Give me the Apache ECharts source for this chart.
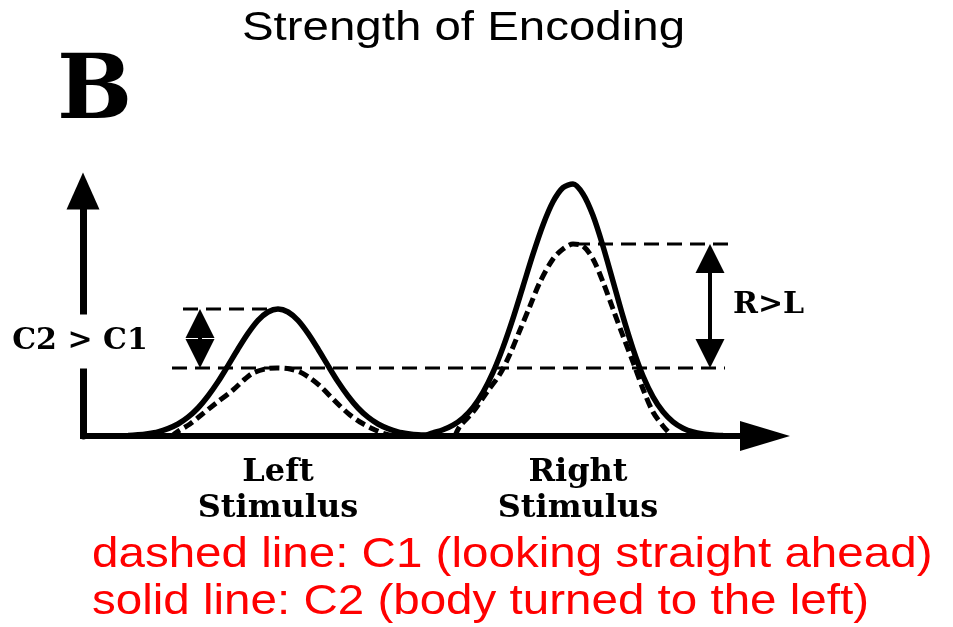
<!DOCTYPE html>
<html>
<head>
<meta charset="utf-8">
<script src="https://cdn.jsdelivr.net/npm/echarts@6/dist/echarts.min.js"></script>
<style>html,body{margin:0;padding:0;background:#fff;}#c{width:953px;height:627px;}</style>
</head>
<body>
<div id="c"></div>
<script>
const stimulusX = [39, 99];
const stimulusLabels = ['Left\nStimulus', 'Right\nStimulus'];

// C2 (solid): body turned to the left
const solidX = [0, 9, 11, 13, 15, 17, 19, 21, 23, 25, 27, 29, 31, 33, 35, 37, 39, 41, 43, 45, 47, 49, 51, 53, 55, 57, 59, 61, 63, 65, 67, 68.5,
  70, 72, 74, 76, 78, 80, 82, 84, 86, 88, 90, 92, 94, 96, 98, 100, 102, 104, 106, 108, 110, 112, 114, 116, 118, 120, 122, 124, 126, 128];
const solidY = [0, 0.3, 0.6, 1.2, 2.1, 3.7, 6.0, 9.4, 14.0, 20.0, 27.1, 35.2, 43.5, 51.3, 57.8, 62.0, 63.5, 62.0, 57.8, 51.3, 43.5, 35.2, 27.1, 20.0, 14.0, 9.4, 6.0, 3.7, 2.1, 1.2, 0.6, 0.5,
  1.6, 3.1, 5.4, 9.0, 14.3, 21.8, 31.8, 44.3, 58.8, 74.8, 90.9, 105.5, 117.1, 124.2, 126.0, 121.0, 110.2, 94.9, 77.4, 59.7, 43.6, 30.0, 19.6, 12.1, 7.1, 3.9, 2.0, 1.0, 0.5, 0.2];

// C1 (dashed): looking straight ahead
const dashedLeftX = [17.8, 18.8, 21.4, 23.4, 26.4, 30.0, 32.4, 34.0, 36.4, 38.8, 41.4, 43.4, 45.4, 47.4, 49.4, 51.4, 53.4, 55.4, 58.0, 60.4, 62.4];
const dashedLeftY = [0, 2, 6, 10, 16, 23, 28.5, 31.5, 33.5, 34, 33.5, 32, 29, 25, 20, 15, 10.5, 7, 3.5, 1, 0];
const dashedRightX = [74.4, 75.4, 78.0, 80.8, 83.4, 85.4, 87.4, 89.4, 91.4, 94.0, 96.0, 98.0, 100.0, 102.0, 104.0, 106.0, 108.0, 110.0, 112.0, 114.0, 116.0, 117.8];
const dashedRightY = [0, 5, 12, 22, 31, 41, 53, 65, 77, 88.5, 93.5, 96, 95, 88.5, 77, 63.5, 50, 37, 23.5, 12, 5, 0];

// ---- derived levels ----
const c2Left = Math.max(...solidY.slice(0, 32));
const c1Left = Math.max(...dashedLeftY);
const c1Right = Math.max(...dashedRightY);

const zip = (xs, ys) => xs.map((x, i) => [x, ys[i]]);
const dashedCurve = zip(dashedLeftX, dashedLeftY).concat([[null, null]]).concat(zip(dashedRightX, dashedRightY));

const headInset = 7.25; // half arrowhead length in y units
const leftArrowX = 23.4, rightArrowX = 125.4;

const chart = echarts.init(document.getElementById('c'));
const refStyle = {color: '#000', width: 3, type: [15, 8]};
chart.setOption({
  animation: false,
  backgroundColor: '#fff',
  grid: {left: 83, right: 188, top: 191, bottom: 191},
  xAxis: {
    type: 'value', min: 0, max: 136.4,
    axisLine: {show: true, lineStyle: {color: '#000', width: 6, cap: 'square'}, symbol: ['none', 'triangle'], symbolSize: [30, 50]},
    axisTick: {show: false},
    splitLine: {show: false},
    axisLabel: {
      show: true, customValues: stimulusX, margin: 19,
      formatter: v => stimulusLabels[stimulusX.indexOf(v)] || '',
      color: '#000', fontFamily: 'DejaVu Serif', fontWeight: 'bold', fontSize: 32, lineHeight: 36
    }
  },
  yAxis: {
    type: 'value', min: 0, max: 122.5,
    axisLine: {show: true, lineStyle: {color: '#000', width: 7}, symbol: ['none', 'triangle'], symbolSize: [33, 37]},
    axisTick: {show: false}, axisLabel: {show: false}, splitLine: {show: false}
  },
  series: [
    {type: 'line', name: 'C2', data: zip(solidX, solidY), showSymbol: false, smooth: 0.3, clip: false,
     lineStyle: {color: '#000', width: 5.5}, z: 3},
    {type: 'line', name: 'C1', data: dashedCurve, showSymbol: false, smooth: 0.3, connectNulls: false, clip: false,
     lineStyle: {color: '#000', width: 5, type: [10, 5]}, z: 4},
    {type: 'line', data: [[20, c2Left], [39, c2Left]], showSymbol: false, lineStyle: refStyle, z: 2},
    {type: 'line', data: [[17.8, c1Left], [128.4, c1Left]], showSymbol: false, lineStyle: refStyle, z: 2},
    {type: 'line', data: [[98.4, c1Right], [130, c1Right]], showSymbol: false, lineStyle: refStyle, z: 2},
    {type: 'line', data: [], z: 5,
     markLine: {
       silent: true, animation: false,
       symbol: ['triangle', 'triangle'], symbolSize: 29,
       label: {show: false},
       lineStyle: {color: '#000', width: 4, type: 'solid'},
       emphasis: {disabled: true},
       data: [
         [{coord: [leftArrowX, c2Left - headInset]}, {coord: [leftArrowX, c1Left + headInset]}],
         [{coord: [rightArrowX, c1Right - headInset]}, {coord: [rightArrowX, c1Left + headInset]}]
       ]
     }}
  ],
  graphic: [
    {type: 'text', x: 463.5, y: 28.5, scaleX: 1.186, z: 100,
     style: {text: 'Strength of Encoding', font: '40px "Liberation Sans"', fill: '#000', align: 'center', verticalAlign: 'middle', textAlign: 'center', textVerticalAlign: 'middle'}},
    {type: 'text', x: 57, y: 95, z: 100,
     style: {text: 'B', font: 'bold 89px "DejaVu Serif"', fill: '#000', align: 'left', verticalAlign: 'middle', textAlign: 'left', textVerticalAlign: 'middle'}},
    {type: 'text', x: 80, y: 341.5, z: 100,
     style: {text: 'C2 > C1', font: 'bold 30px "DejaVu Serif"', fill: '#000', lineHeight: 30, backgroundColor: '#fff', padding: [9, 4, 15, 4],
             align: 'center', verticalAlign: 'middle', textAlign: 'center', textVerticalAlign: 'middle'}},
    {type: 'text', x: 733, y: 305, z: 100,
     style: {text: 'R>L', font: 'bold 30px "DejaVu Serif"', fill: '#000', align: 'left', verticalAlign: 'middle', textAlign: 'left', textVerticalAlign: 'middle'}},
    {type: 'text', x: 92, y: 555, scaleX: 1.132, z: 100,
     style: {text: 'dashed line: C1 (looking straight ahead)', font: '42px "Liberation Sans"', fill: '#ff0000', align: 'left', verticalAlign: 'middle', textAlign: 'left', textVerticalAlign: 'middle'}},
    {type: 'text', x: 92, y: 602.5, scaleX: 1.132, z: 100,
     style: {text: 'solid line: C2 (body turned to the left)', font: '42px "Liberation Sans"', fill: '#ff0000', align: 'left', verticalAlign: 'middle', textAlign: 'left', textVerticalAlign: 'middle'}}
  ]
});
</script>
</body>
</html>
